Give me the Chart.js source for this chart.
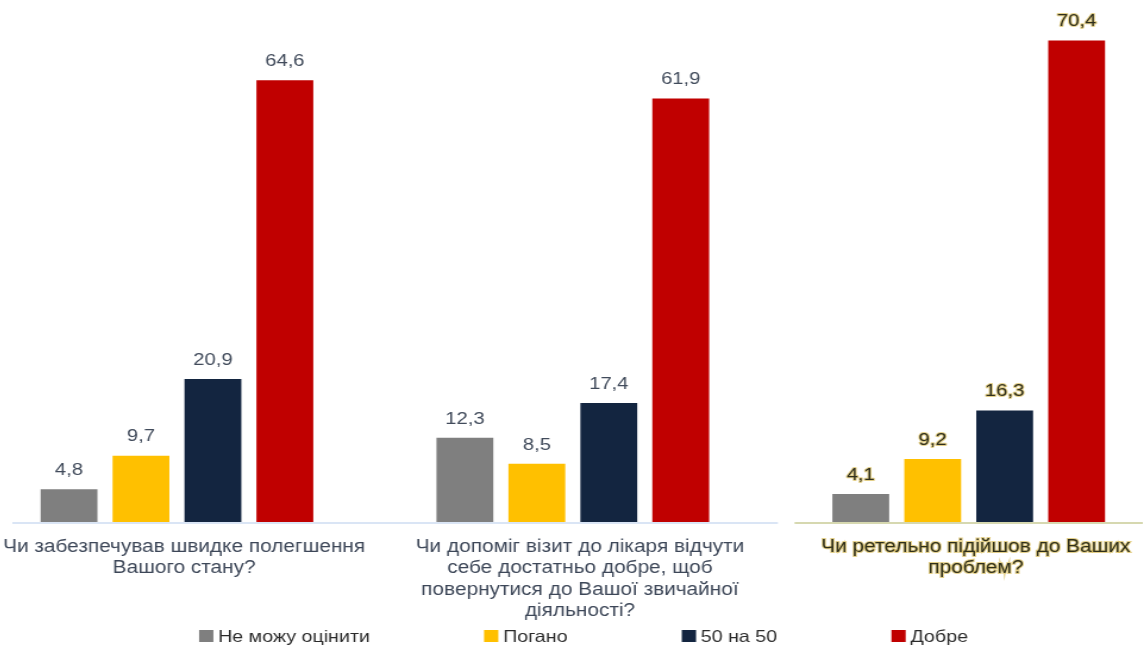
<!DOCTYPE html>
<html>
<head>
<meta charset="utf-8">
<script src="https://cdn.jsdelivr.net/npm/chart.js@4"></script>
<style>
    html, body { margin: 0; padding: 0; background: #fff; overflow: hidden; }
    /* the survey slide is stretched wide, so the whole chart is scaled on x */
    #wrap {
        position: absolute; left: -21.5px; top: 0;
        width: 998px; height: 648px;
        transform: scaleX(1.19); transform-origin: 0 0;
    }
</style>
</head>
<body>
<div id="wrap"><canvas id="visit-chart"></canvas></div>
<script>
const questions = [
    ['Чи забезпечував швидке полегшення', 'Вашого стану?'],
    ['Чи допоміг візит до лікаря відчути', 'себе достатньо добре, щоб', 'повернутися до Вашої звичайної', 'діяльності?'],
    ['Чи ретельно підійшов до Ваших', 'проблем?']
];
const answers = ['Не можу оцінити', 'Погано', '50 на 50', 'Добре'];
const cantSay = [4.8, 12.3, 4.1];
const bad = [9.7, 8.5, 9.2];
const fiftyFifty = [20.9, 17.4, 16.3];
const good = [64.6, 61.9, 70.4];

const answerColors = ['#7f7f7f', '#ffc000', '#132540', '#c00000'];
const FONT = '"Liberation Sans", Arial, sans-serif';
const HALO = 'rgba(200,160,20,0.5)';

// numbers above every bar, decimal comma; the last question is highlighted
const valueLabels = {
    id: 'valueLabels',
    afterDatasetsDraw(chart) {
        let ctx = chart.ctx;
        let last = chart.data.labels.length - 1;
        ctx.save();
        ctx.textAlign = 'center';
        ctx.textBaseline = 'middle';
        ctx.font = '17px ' + FONT;
        ctx.lineJoin = 'round';
        chart.data.datasets.forEach(function (ds, di) {
            chart.getDatasetMeta(di).data.forEach(function (bar, i) {
                let text = ds.data[i].toFixed(1).replace('.', ',');
                if (i === last) {
                    ctx.strokeStyle = HALO;
                    ctx.lineWidth = 2;
                    ctx.strokeText(text, bar.x, bar.y - 19);
                    ctx.fillStyle = '#2e2e1e';
                } else {
                    ctx.fillStyle = '#414b5b';
                }
                ctx.fillText(text, bar.x, bar.y - 19);
            });
        });
        ctx.restore();
    }
};

// two separate base lines: first two questions share one, the last has its own
const baseLines = {
    id: 'baseLines',
    beforeDatasetsDraw(chart) {
        let ctx = chart.ctx;
        let x = chart.scales.x;
        let cell = x.width / chart.data.labels.length;
        let y = chart.chartArea.bottom + 1;
        ctx.save();
        ctx.lineWidth = 2;
        ctx.strokeStyle = '#dae5f5';
        ctx.beginPath();
        ctx.moveTo(x.left + 28, y);
        ctx.lineTo(x.left + 2 * cell + 6, y);
        ctx.stroke();
        ctx.strokeStyle = '#d6d8b0';
        ctx.beginPath();
        ctx.moveTo(x.left + 2 * cell + 20, y);
        ctx.lineTo(x.right - 20, y);
        ctx.stroke();
        ctx.restore();
    }
};

// legend row along the bottom with wide gaps between items
const answerLegend = {
    id: 'answerLegend',
    afterDraw(chart) {
        let ctx = chart.ctx;
        let box = 12, gap = 4, spacing = 96;
        let y = chart.height - 12;
        ctx.save();
        ctx.font = '16.5px ' + FONT;
        ctx.textBaseline = 'middle';
        let widths = chart.data.datasets.map(ds => box + gap + ctx.measureText(ds.label).width);
        let total = widths.reduce((a, b) => a + b, 0) + spacing * (widths.length - 1);
        let left = (chart.chartArea.left + chart.chartArea.right) / 2 + 9 - total / 2;
        chart.data.datasets.forEach(function (ds, i) {
            ctx.fillStyle = ds.backgroundColor;
            ctx.fillRect(left, y - box / 2, box, box);
            ctx.fillStyle = '#2b2b2b';
            ctx.fillText(ds.label, left + box + gap, y + 1);
            left += widths[i] + spacing;
        });
        ctx.restore();
    }
};

function buildDatasets() {
    return [cantSay, bad, fiftyFifty, good].map(function (values, i) {
        return {
            label: answers[i],
            data: values,
            backgroundColor: answerColors[i],
            categoryPercentage: 0.727,
            barPercentage: 0.79
        };
    });
}

let canvas = document.getElementById('visit-chart');
new Chart(canvas.getContext('2d'), {
    type: 'bar',
    data: {
        labels: questions,
        datasets: buildDatasets()
    },
    options: {
        responsive: true,
        maintainAspectRatio: false,
        animation: false,
        layout: { padding: { top: 9, left: 0, right: 0, bottom: 0 } },
        plugins: {
            legend: { display: false },
            tooltip: { enabled: false }
        },
        scales: {
            x: {
                grid: { display: false, drawTicks: false },
                border: { display: false },
                ticks: {
                    autoSkip: false,
                    maxRotation: 0,
                    padding: 14,
                    labelOffset: 6,
                    color: ctx => ctx.index === 2 ? '#2e2e1a' : '#3d4758',
                    textStrokeColor: ctx => ctx.index === 2 ? HALO : '',
                    textStrokeWidth: ctx => ctx.index === 2 ? 2 : 0,
                    font: { family: FONT, size: 17.5, lineHeight: '21.5px' }
                },
                afterFit(scale) {
                    scale.height = 126;
                    scale.paddingLeft = 0;
                    scale.paddingRight = 0;
                }
            },
            y: {
                display: false,
                min: 0,
                max: 75
            }
        }
    },
    plugins: [baseLines, valueLabels, answerLegend]
});
</script>
</body>
</html>
